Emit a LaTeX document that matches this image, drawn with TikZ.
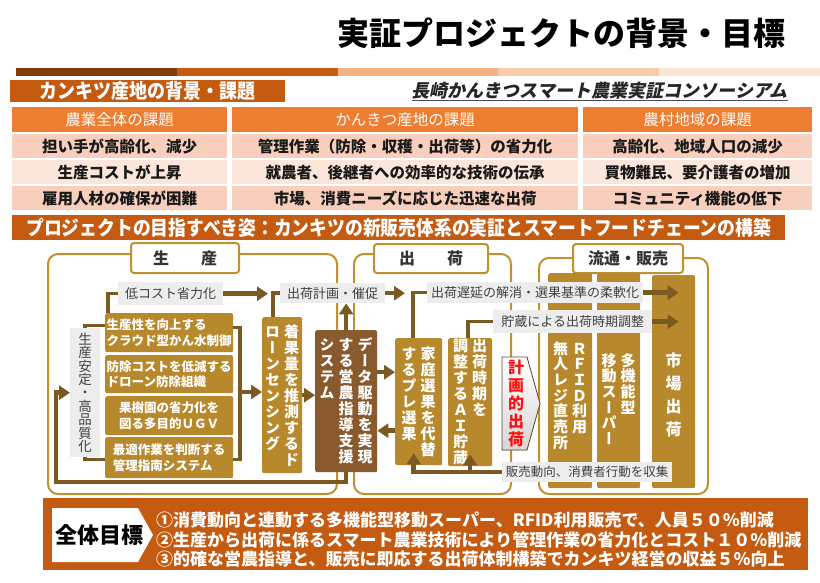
\documentclass[tikz,border=0pt]{standalone}
\usepackage{fontspec}
\usepackage{graphicx}
\setmainfont{Noto Sans CJK JP}
\newfontfamily\vertfont[RawFeature=+vert]{Noto Sans CJK JP}
\newfontfamily\slantfont[FakeSlant=0.2]{Noto Sans CJK JP}
\usetikzlibrary{arrows.meta,positioning,calc,backgrounds}
\definecolor{rust}{HTML}{C55A11}
\definecolor{tangerine}{HTML}{ED7D31}
\definecolor{pinkA}{HTML}{F8CFBC}
\definecolor{pinkB}{HTML}{FBE6DC}
\definecolor{gold}{HTML}{B8882C}
\definecolor{cocoa}{HTML}{8A5A2F}
\definecolor{arrowbrown}{HTML}{7A5A20}
\definecolor{framegold}{HTML}{C0912E}
\definecolor{notegray}{HTML}{EDEDED}
\definecolor{barA}{HTML}{843C0C}
\definecolor{barB}{HTML}{C55A11}
\definecolor{barC}{HTML}{F4B183}
\definecolor{barD}{HTML}{F8CBAD}
\definecolor{barE}{HTML}{FBE5D6}
\definecolor{alarm}{HTML}{FF1010}

% vertical (tategaki) columns
\newdimen\vpitch \vpitch=16pt
\ExplSyntaxOn
\NewDocumentCommand\vcol{m}{
  \vtop{\baselineskip=\vpitch \lineskiplimit=-100pt \lineskip=0pt
    \tl_map_inline:nn {#1}{\hbox_to_wd:nn{1em}{\hss ##1\hss}}}
}
\NewDocumentCommand\vtext{O{4pt}m}{
  \seq_set_from_clist:Nn \l_tmpa_seq {#2}
  \seq_reverse:N \l_tmpa_seq
  \hbox:n{\vertfont
    \seq_map_indexed_inline:Nn \l_tmpa_seq
      {\int_compare:nNnF{##1}={1}{\skip_horizontal:n{#1}}\vcol{##2}}}
}
\ExplSyntaxOff

\tikzset{banner/.style={fill=rust,text=white,inner sep=0pt,font=\bfseries\fontsize{20}{20}\selectfont},
  headcell/.style={fill=tangerine,text=white,inner sep=0pt,minimum height=25pt,font=\fontsize{15.5}{15.5}\selectfont},
  cell/.style={inner sep=0pt,minimum height=24pt,text=black!90,font=\bfseries\fontsize{15.5}{15.5}\selectfont},
  area/.style={draw=framegold,line width=2pt,rounded corners=10pt,inner sep=0pt},
  tab/.style={draw=framegold,line width=2pt,fill=white,rounded corners=3pt,inner sep=0pt,text=black!80,font=\bfseries\fontsize{16}{16}\selectfont},
  note/.style={fill=notegray,inner sep=0pt,text=black!75,font=\fontsize{13}{13}\selectfont},
  stackbox/.style={fill=gold,text=white,inner sep=0pt,rounded corners=2pt,align=left,font=\bfseries\fontsize{12.5}{15.5}\selectfont},
  goldcol/.style={fill=gold,text=white,inner sep=0pt,rounded corners=2pt,font=\bfseries\fontsize{15}{15}\selectfont\setlength\vpitch{16pt}},
  databox/.style={goldcol,fill=cocoa},
  coltext/.style={text=white,inner sep=0pt,font=\bfseries\fontsize{15}{15}\selectfont\setlength\vpitch{15.7pt}},
  flow/.style={draw=arrowbrown,line width=4.5pt,-{Triangle[length=11pt,width=14pt]}},
  link/.style={draw=arrowbrown,line width=3.5pt},
  goaltext/.style={text=white,inner sep=0pt,anchor=west,font=\bfseries\fontsize{17}{17}\selectfont}}

\begin{document}
\begin{tikzpicture}[x=1pt,y=-1pt]
\fill[white] (0,0) rectangle (820,582);
\useasboundingbox (0,0) rectangle (820,582);

% title and head bar
\node[anchor=east,inner sep=0pt,font=\bfseries\fontsize{32}{32}\selectfont] (title) at (786,33) {実証プロジェクトの背景・目標};
\foreach \c [count=\i from 0] in {barA,barB,barC,barD,barE}
  \fill[\c] (16+160.8*\i,68) rectangle ++(160.8,8);
\node[banner,minimum width=275pt,minimum height=22pt,anchor=north west] (bgtitle) at (10,80) {\scalebox{.9}[1]{カンキツ産地の背景・課題}};
\node[anchor=east,inner sep=0pt,text=black!85,font=\slantfont\bfseries\fontsize{18}{18}\selectfont] (consort) at (788,91) {長崎かんきつスマート農業実証コンソーシアム};
\draw[black!70,line width=1.2pt] ([yshift=-3pt]consort.base west) -- ([yshift=-3pt]consort.base east);

% issue table
\foreach \x/\w/\hd/\ta/\tb/\tc [count=\k] in {
  12/215/農業全体の課題/担い手が高齢化、減少/生産コストが上昇/雇用人材の確保が困難,
  232/346/かんきつ産地の課題/管理作業（防除・収穫・出荷等）の省力化/就農者、後継者への効率的な技術の伝承/市場、消費ニーズに応じた迅速な出荷,
  583/229/農村地域の課題/高齢化、地域人口の減少/買物難民、要介護者の増加/コミュニティ機能の低下} {
 \node[headcell,minimum width=\w pt,anchor=north west] (h\k) at (\x,107) {\hd};
 \node[cell,fill=pinkA,minimum width=\w pt,anchor=north west] (t\k-1) at (\x,134) {\ta};
 \node[cell,fill=pinkB,minimum width=\w pt,anchor=north west] (t\k-2) at (\x,160) {\tb};
 \node[cell,fill=pinkA,minimum width=\w pt,anchor=north west] (t\k-3) at (\x,186) {\tc};}

\node[banner,minimum width=773pt,minimum height=25pt,anchor=north west] (aim) at (12,215) {\scalebox{.89}[1]{プロジェクトの目指すべき姿：カンキツの新販売体系の実証とスマートフードチェーンの構築}};

% three areas
\node[area,minimum width=289pt,minimum height=240pt,anchor=north west] (prodarea) at (47,253) {};
\node[area,minimum width=157pt,minimum height=240pt,anchor=north west] (shiparea) at (353,253) {};
\node[area,minimum width=169pt,minimum height=236pt,anchor=north west] (distarea) at (538,257) {};
\node[tab,minimum width=108pt,minimum height=30pt,anchor=north west] (prodtab) at (130,242) {生\hspace{2em}産};
\node[tab,minimum width=114pt,minimum height=29pt,anchor=north west] (shiptab) at (373,243) {出\hspace{2em}荷};
\node[tab,minimum width=110pt,minimum height=29pt,anchor=north west] (disttab) at (572,243) {流通・販売};

% production
\node[stackbox,minimum width=128pt,minimum height=39pt,anchor=north west] (b1) at (105,313) {生産性を向上する\\クラウド型かん水制御};
\node[stackbox,minimum width=128pt,minimum height=38pt,anchor=north west] (b2) at (105,355) {防除コストを低減する\\ドローン防除組織};
\node[stackbox,minimum width=128pt,minimum height=39pt,anchor=north west] (b3) at (105,396) {果樹園の省力化を\\図る多目的ＵＧＶ};
\node[stackbox,minimum width=128pt,minimum height=41pt,anchor=north west] (b4) at (105,437) {最適作業を判断する\\管理指南システム};
\begin{pgfonlayer}{background}
\draw[link] (b1) -- (b4);
\end{pgfonlayer}
\node[note,minimum width=30pt,minimum height=129pt,anchor=north west,font=\fontsize{13.5}{13.5}\selectfont\setlength\vpitch{13.4pt}] (stable) at (70,328) {\vtext{生産安定・高品質化}};
\node[note,minimum width=105pt,minimum height=23pt,anchor=north west] (costlbl) at (118,282) {低コスト省力化};
\node[goldcol,minimum width=40pt,minimum height=156pt,anchor=north west] (drone) at (262,317) {\vtext{着果量を推測するド,ローンセンシング}};
\node[note,minimum width=105pt,minimum height=20pt,anchor=north west] (planlbl) at (280,283) {出荷計画・催促};
\node[databox,minimum width=62pt,minimum height=142pt,anchor=north west] (data) at (315,330) {\vtext{データ駆動を実現,する営農指導支援,システム}};
\coordinate (rjoin) at (240,392);
\coordinate (loop) at (56,482);

% shipping
\node[goldcol,minimum width=47pt,minimum height=127pt,anchor=north west] (sort) at (395,338) {\vtext{家庭選果を代替,するプレ選果}};
\node[goldcol,minimum width=44pt,minimum height=128pt,anchor=north west] (ai) at (448,338) {\vtext{出荷時期を,調整するＡＩ貯蔵}};
\fill[top color=white,bottom color=black!16,draw=black!45!brown,line width=.8pt] (502,357) -- (527,357) -- (540,403.5) -- (527,450) -- (502,450) -- cycle;
\node[text=alarm,inner sep=0pt,font=\bfseries\fontsize{16}{16}\selectfont\setlength\vpitch{18pt}] (planship) at (516,403.5) {\vtext{計画的出荷}};

% distribution
\node[goldcol,minimum width=44pt,minimum height=215pt,anchor=north west] (rfid) at (548,273) {};
\node[goldcol,minimum width=43pt,minimum height=215pt,anchor=north west] (multi) at (597,273) {};
\node[goldcol,minimum width=43pt,minimum height=213pt,anchor=north west] (market) at (652,275) {};
\node[coltext,below=68pt of rfid.north] (rfidtxt) {\vtext{ＲＦＩＤ利用,無人レジ直売所}};
\node[coltext,below=80pt of multi.north] (multitxt) {\vtext{多機能型,移動スーパー}};
\node[coltext,below=78pt of market.north,font=\bfseries\fontsize{16}{16}\selectfont\setlength\vpitch{22.7pt}] (markettxt) {\vtext{市場出荷}};

\node[note,minimum width=216pt,minimum height=21pt,anchor=north west] (shiplbl) at (427,282) {出荷遅延の解消・選果基準の柔軟化};
\node[note,minimum width=159pt,minimum height=23pt,anchor=north west] (stocklbl) at (493,310) {貯蔵による出荷時期調整};
\node[note,minimum width=170pt,minimum height=20pt,anchor=north west,font=\fontsize{12.5}{12.5}\selectfont] (collectlbl) at (502,462) {販売動向、消費者行動を収集};

% connectors
\draw[link] ([xshift=3pt]b1.north west) |- (costlbl.west);
\draw[link] ([yshift=7pt]b1.west) -| (stable.north);
\draw[link] (stable.south) |- ([yshift=-2pt]b4.west);
\draw[link] ([yshift=5pt]b1.east) -| ([yshift=-2pt]b4.east -| rjoin) -- ([yshift=-2pt]b4.east);
\draw[flow] (rjoin) -- (rjoin -| drone.west);
\draw[flow] (costlbl.east) -- ([xshift=-12pt]planlbl.west |- costlbl.east);
\draw[link] ([xshift=11pt]drone.north west) |- (planlbl.west);
\draw[flow] (drone.east) -- (drone.east -| data.west);
\draw[flow] (data.north) -- (data.north |- planlbl.south);
\draw[flow] (data.south) |- (loop) |- (stable.west);
\draw[flow] ([yshift=29pt]data.east) -- ([yshift=29pt]data.east -| sort.west);
\draw[flow] ([yshift=-29pt]sort.west) -- ([yshift=-29pt]sort.west -| data.east);
\draw[link] ([xshift=18pt]sort.north west) |- (shiplbl.west);
\draw[flow] (planlbl.east) -- ([xshift=10pt]sort.west |- planlbl.east);
\draw[link] ([xshift=20pt]ai.north west) |- (stocklbl.west);
\draw[flow] (shiplbl.east) -- ([xshift=5pt]shiplbl.east -| market.center);
\draw[flow] (stocklbl.east) -- ([xshift=5pt]stocklbl.east -| market.center);
\draw[flow] (collectlbl.west) -| ([xshift=-5pt,yshift=12pt]sort.south);
\draw[flow] (collectlbl.west -| ai.south) -- ([yshift=12pt]ai.south);

% overall goals
\node[fill=rust,minimum width=765pt,minimum height=72pt,anchor=north west,inner sep=0pt] (goalbg) at (43,498) {};
\fill[white] (52,508) -- (138,508) -- (153,535) -- (138,562) -- (52,562) -- cycle;
\node[inner sep=0pt,font=\bfseries\fontsize{22}{22}\selectfont] (goal) at (100,535) {全体目標};
\node[goaltext] (goal1) at (156,520) {①消費動向と連動する多機能型移動スーパー、RFID利用販売で、人員５０％削減};
\node[goaltext] (goal2) at (156,539.5) {②生産から出荷に係るスマート農業技術により管理作業の省力化とコスト１０％削減};
\node[goaltext] (goal3) at (156,558.5) {③的確な営農指導と、販売に即応する出荷体制構築でカンキツ経営の収益５％向上};
\end{tikzpicture}
\end{document}
